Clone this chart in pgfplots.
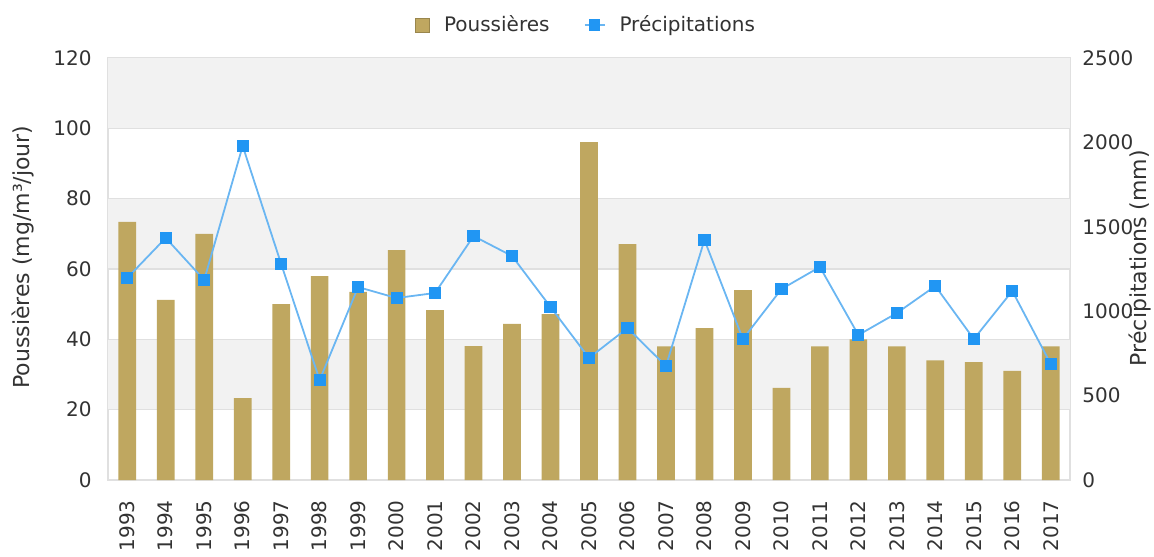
\documentclass[border=0pt]{standalone}
\usepackage{pgfplots}
\pgfplotsset{compat=1.18}
\usepackage{fontspec}
\setmainfont{DejaVu Sans}
\definecolor{barc}{HTML}{BFA760}
\definecolor{linec}{HTML}{6AB6F2}
\definecolor{markc}{HTML}{2196F3}
\definecolor{bandc}{HTML}{F2F2F2}
\definecolor{gridc}{HTML}{E0E0E0}
\definecolor{txtc}{HTML}{333333}
\begin{document}
\begin{tikzpicture}
\path[use as bounding box] (-54pt,-38pt) rectangle (523pt,240pt);
\begin{axis}[
  scale only axis, width=481pt, height=211pt,
  xmin=-0.5, xmax=24.5, ymin=0, ymax=120,
  xtick={0,...,24},
  xticklabels={1993,1994,1995,1996,1997,1998,1999,2000,2001,2002,2003,2004,2005,2006,2007,2008,2009,2010,2011,2012,2013,2014,2015,2016,2017},
  ytick={0,20,...,120},
  major tick length=0pt,
  axis line style={draw=gridc, line width=0.6pt},
  tick label style={font=\fontsize{10}{12}\selectfont, text=txtc},
  xticklabel style={rotate=90, anchor=east, inner sep=0pt},
  xticklabel shift=10pt,
  yticklabel style={inner sep=0pt},
  yticklabel shift=8pt,
  /pgf/number format/assume math mode=true,
  ylabel={Poussières (mg/m³/jour)},
  ylabel style={at={(axis description cs:-0.0884,0.528)}, anchor=center, font=\fontsize{11}{13}\selectfont, text=txtc},
  legend style={draw=none, fill=none, at={(axis description cs:0.498,1.078)}, anchor=center, legend columns=-1, font=\fontsize{10}{12}\selectfont, text=txtc,
    /tikz/every even column/.append style={column sep=15pt},
    /tikz/every odd column/.append style={column sep=5pt}},
]
\fill[bandc] (axis cs:-0.5,100) rectangle (axis cs:24.5,120);
\fill[bandc] (axis cs:-0.5,60) rectangle (axis cs:24.5,80);
\fill[bandc] (axis cs:-0.5,20) rectangle (axis cs:24.5,40);
\foreach \g in {20,40,60,80,100} {\edef\tmp{\noexpand\draw[gridc, line width=0.6pt] (axis cs:-0.5,\g) -- (axis cs:24.5,\g);}\tmp}
\addplot[ybar, bar width=0.46, fill=barc, draw=none, forget plot] coordinates {
(0,73.4) (1,51.2) (2,70) (3,23.3) (4,50) (5,58) (6,53.5) (7,65.4) (8,48.3) (9,38.1)
(10,44.4) (11,47.2) (12,96.1) (13,67.1) (14,38) (15,43.2) (16,54) (17,26.2) (18,38)
(19,40) (20,38) (21,34) (22,33.5) (23,31) (24,38)};
\addlegendimage{legend image code/.code={\draw[fill=barc,draw=barc!80!black] (0pt,-3.5pt) rectangle (7pt,3.5pt);}}
\addlegendentry{Poussières}
\addlegendimage{legend image code/.code={\draw[linec, line width=1pt] (0pt,0pt) -- (10pt,0pt); \fill[markc] (2.2pt,-2.6pt) rectangle (7.4pt,2.6pt);}}
\addlegendentry{Précipitations}
\end{axis}
\begin{axis}[
  scale only axis, width=481pt, height=211pt,
  xmin=-0.5, xmax=24.5, ymin=0, ymax=2500,
  ytick={0,500,...,2500},
  axis y line*=right, hide x axis,
  y axis line style={draw=none},
  major tick length=0pt,
  tick label style={font=\fontsize{10}{12}\selectfont, text=txtc},
  yticklabel style={inner sep=0pt, /pgf/number format/set thousands separator={}},
  yticklabel shift=6pt,
  /pgf/number format/assume math mode=true,
  ylabel={Précipitations (mm)},
  ylabel style={at={(axis description cs:1.0728,0.526)}, anchor=center, font=\fontsize{11}{13}\selectfont, text=txtc},
]
\addplot[linec, line width=0.9pt, mark=square*, mark size=2.6pt, mark options={fill=markc, draw=markc}] coordinates {
(0,1197) (1,1434) (2,1185) (3,1979) (4,1280) (5,592) (6,1143) (7,1078) (8,1108) (9,1445)
(10,1327) (11,1025) (12,723) (13,900) (14,675) (15,1422) (16,835) (17,1131) (18,1262)
(19,859) (20,989) (21,1149) (22,835) (23,1120) (24,687)};
\end{axis}
\end{tikzpicture}
\end{document}
